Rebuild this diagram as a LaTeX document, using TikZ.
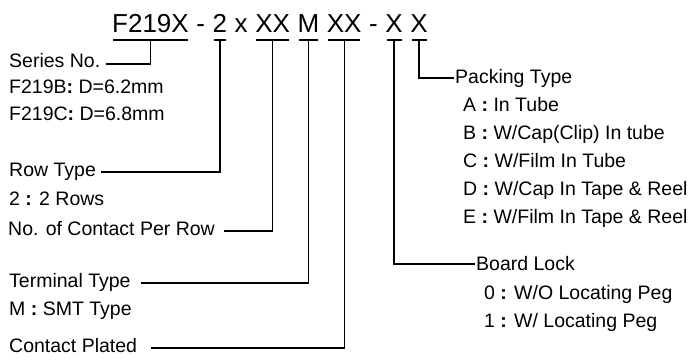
\documentclass[tikz,border=0pt]{standalone}
\usepackage{fontspec}
\setmainfont{Liberation Sans}
\usetikzlibrary{calc}
\newcommand{\cln}{\textbf{:}}
\begin{document}
\begin{tikzpicture}[x=1pt,y=-1pt,
  lbl/.style={inner sep=0pt, font=\fontsize{19.5}{22}\selectfont, anchor=base west},
  ttl/.style={inner sep=0pt, font=\fontsize{26}{30}\selectfont, anchor=base west},
  ln/.style={line width=1.3pt, line cap=rect}]
\useasboundingbox (0,0) rectangle (691,362);
\coordinate (ul) at (0,40);
% title tokens
\node[ttl] (t1) at (112,32) {F219X};
\node[ttl] (d1) at ($(t1.base east)+(7.2,0)$) {-};
\node[ttl] (t2) at ($(d1.base east)+(7.2,0)$) {2};
\node[ttl] (tx) at ($(t2.base east)+(7.2,0)$) {x};
\node[ttl] (t3) at ($(tx.base east)+(7.2,0)$) {XX};
\node[ttl] (t4) at ($(t3.base east)+(7.2,0)$) {M};
\node[ttl] (t5) at ($(t4.base east)+(7.2,0)$) {XX};
\node[ttl] (d2) at ($(t5.base east)+(7.2,0)$) {-};
\node[ttl] (t6) at ($(d2.base east)+(7.2,0)$) {X};
\node[ttl] (t7) at ($(t6.base east)+(7.2,0)$) {X};
% underlines
\foreach \t in {t1,t2,t3,t4,t5,t6,t7}
  \draw[ln] ($(\t.west|-ul)+(2,0)$) -- ($(\t.east|-ul)+(-2,0)$);
% left labels
\node[lbl] (series) at (9,67) {Series No.};
\node[lbl] (f219b) at (9,93.5) {F219B\cln{} D=6.2mm};
\node[lbl] (f219c) at (9,120) {F219C\cln{} D=6.8mm};
\node[lbl] (row) at (9,176) {Row Type};
\node[lbl] (rows) at (9,205) {2 \cln{} 2 Rows};
\node[lbl] (noc) at (8,235) {No. of Contact Per Row};
\node[lbl] (term) at (9,287) {Terminal Type};
\node[lbl] (smt) at (9,315) {M \cln{} SMT Type};
\node[lbl] (plated) at (9,352) {Contact Plated};
% right labels
\node[lbl] (packing) at (455,83) {Packing Type};
\node[lbl] (pa) at (463,111) {A \cln{} In Tube};
\node[lbl] (pb) at (463,139) {B \cln{} W/Cap(Clip) In tube};
\node[lbl] (pc) at (463,167) {C \cln{} W/Film In Tube};
\node[lbl] (pd) at (463,195) {D \cln{} W/Cap In Tape \& Reel};
\node[lbl] (pe) at (463,223) {E \cln{} W/Film In Tape \& Reel};
\node[lbl] (board) at (476,270) {Board Lock};
\node[lbl] (b0) at (484,299) {0 \cln{} W/O Locating Peg};
\node[lbl] (b1) at (484,327) {1 \cln{} W/ Locating Peg};
% connectors
\draw[ln] (t1.south|-ul) |- ($(series.base east)+(6,-3)$);
\draw[ln] (t2.south|-ul) |- ($(row.base east)+(6,-4)$);
\draw[ln] (t3.south|-ul) |- ($(noc.base east)+(10,-4)$);
\draw[ln] (t4.south|-ul) |- ($(term.base east)+(11,-4)$);
\draw[ln] (t5.south|-ul) |- ($(plated.base east)+(14,-4)$);
\draw[ln] (t6.south|-ul) |- ($(board.base west)+(-2,-6)$);
\draw[ln] (t7.south|-ul) |- ($(packing.base west)+(-2,-5)$);
\end{tikzpicture}
\end{document}
